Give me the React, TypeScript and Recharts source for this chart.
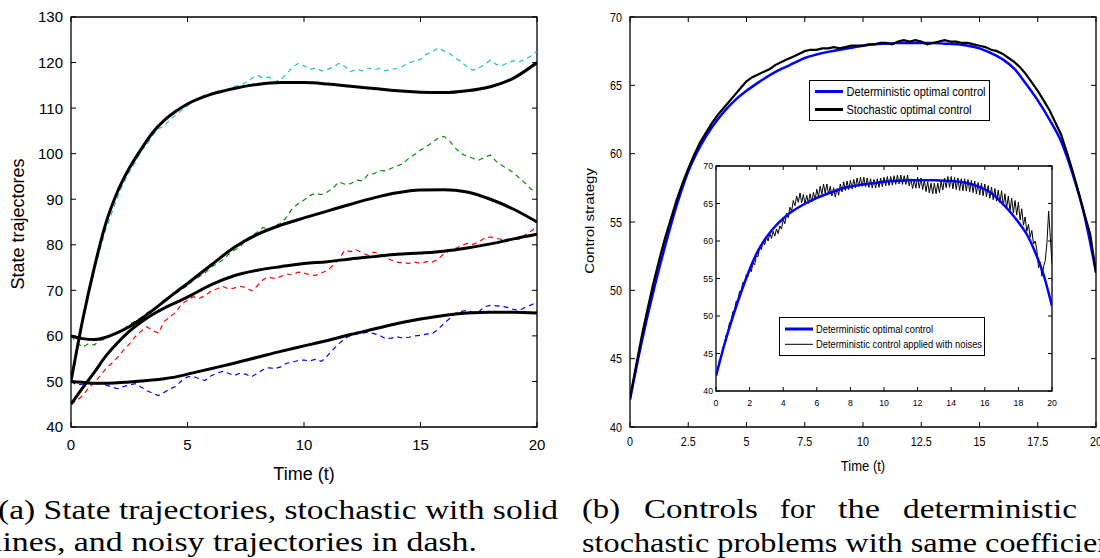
import { LineChart, Line, XAxis, YAxis, ReferenceArea, Legend } from "recharts"

// uniform time grid for the sampled trajectories
const grid = (step: number, end: number) =>
  Array.from({ length: Math.round(end / step) + 1 }, (_, i) => +(i * step).toFixed(2))

// ---------- panel (a): state trajectories ----------
const tSmooth = [0, 0.5, 1, 1.5, 2, 2.5, 3, 3.5, 4, 4.5, 5, 6, 7, 8, 9, 10, 11, 12, 13, 14, 15, 16, 17, 18, 19, 20]
const stochTop = [50, 63.5, 75, 84.8, 91.7, 96.8, 100.9, 104.6, 107.3, 109.3, 110.9, 113, 114.3, 115.2, 115.6, 115.6, 115.3, 114.8, 114.3, 113.8, 113.5, 113.4, 113.8, 114.7, 116.6, 120]
const stochUpper = [60, 59.4, 59.2, 59.7, 60.7, 62, 63.7, 65.6, 67.6, 69.6, 71.5, 75.5, 79.4, 82.3, 84.3, 85.9, 87.4, 88.9, 90.3, 91.4, 92, 92.1, 91.6, 90, 87.8, 85]
const stochLower = [45, 48.6, 52, 55.6, 58.5, 61, 63, 64.7, 66.1, 67.3, 68.5, 71.2, 73.2, 74.4, 75.2, 75.9, 76.3, 76.9, 77.4, 77.9, 78.2, 78.6, 79.3, 80.2, 81.3, 82.3]
const stochBottom = [50, 49.8, 49.6, 49.6, 49.7, 49.9, 50.1, 50.3, 50.6, 51, 51.6, 52.8, 54, 55.3, 56.6, 57.8, 59, 60.3, 61.5, 62.7, 63.7, 64.5, 65, 65.2, 65.2, 65]

const tNoisy = grid(0.25, 20)
const noisyCyan = [
  50, 57, 63, 69, 74.5, 79, 83.5, 87, 90.5, 93.5, 96, 98, 100.5, 102, 104, 105.5,
  106, 107.5, 108.5, 109.5, 110.5, 111.5, 112, 113, 113.2, 113.8, 113.5, 114.2, 114.8, 115, 115.6, 116.5,
  117.2, 116.6, 116.8, 115.8, 116.2, 117.5, 119, 119.8, 119.3, 118.5, 118.8, 118.2, 118.5, 119, 119.8, 119.2,
  118, 118.5, 118.2, 118.8, 118.4, 118.7, 118.2, 118.5, 118.7, 119.2, 120, 120.3, 120.7, 121.8, 122.3, 123.2,
  122.6, 122, 121, 120.2, 119, 118.3, 118.8, 119.6, 120.5, 119.6, 119.3, 120, 120.4, 120.2, 120.7, 121.5, 122.5,
]
const noisyGreen = [
  60, 58.5, 57.5, 58.3, 58, 59, 59.3, 60.2, 60.8, 61.5, 62.5, 63.2, 64, 65, 65.8, 66.6,
  67.8, 68.5, 69.3, 70.3, 71, 72.2, 73, 73.8, 75, 75.8, 76.6, 77.8, 78.8, 79.5, 81, 82,
  82.8, 83.8, 83.2, 84.2, 84.7, 86, 88, 89, 89.8, 90.8, 91.3, 91, 91.6, 92.5, 93.8, 93.3,
  93.4, 94.2, 94, 95.4, 95.6, 96.3, 96.2, 96.8, 97.3, 97.8, 99, 99.8, 100.8, 101.6, 102.4, 103.4,
  103.8, 102.8, 101.2, 100, 99.4, 99, 98.6, 99.2, 99.7, 98.3, 97.4, 96.6, 95.8, 94.6, 93.5, 92.2, 91.5,
]
const noisyRed = [
  45, 45.8, 46.9, 48.5, 49.8, 51.2, 52.8, 54, 55.3, 56.8, 58.2, 59.8, 61, 62, 61.2, 60.6,
  63.2, 64.2, 65.2, 67, 67.8, 68.6, 68.2, 68.8, 69.8, 70.3, 70.9, 70.3, 70.5, 70.9, 70.6, 69.9,
  71, 72.4, 72.9, 72.6, 73, 73.6, 73.4, 74, 73.8, 73.4, 73.3, 73.8, 74.4, 75.5, 76.8, 78.8,
  78.5, 78.9, 78.2, 77.7, 78.4, 78, 77.3, 76.6, 76.2, 76, 75.9, 76.2, 75.9, 76.3, 76.2, 76.8,
  78, 78.7, 79.2, 79.8, 80.3, 80.1, 80.6, 81.5, 81.7, 81.4, 81.2, 81, 81.4, 81.2, 82.2, 83, 83.9,
]
const noisyBlue = [
  50, 49.2, 49.4, 49.6, 49.3, 49.6, 49.2, 48.8, 48.4, 48.9, 49.2, 49.5, 48.8, 48, 47.4, 46.9,
  47.6, 48.4, 48.9, 50.2, 51, 51.1, 50.6, 50.2, 51.2, 51.8, 52.2, 51.8, 51.3, 51.8, 51.6, 51,
  51.8, 52.6, 53, 52.8, 53.2, 54, 54.2, 54.6, 54.7, 54.5, 54.9, 54.4, 55.6, 57, 58.3, 59.4,
  60.1, 60.4, 60.6, 60.8, 60.5, 60.1, 59.4, 59.5, 59.8, 59.5, 59.7, 60, 60.1, 60.4, 60.5, 61.4,
  62.7, 63.8, 64.9, 65.4, 65.6, 65.2, 65.3, 66.4, 66.7, 66.6, 66.5, 66.2, 65.8, 65.6, 66.3, 66.8, 67.4,
]
const stateXTicks = [0, 5, 10, 15, 20]
const stateYTicks = [40, 50, 60, 70, 80, 90, 100, 110, 120, 130]

// ---------- panel (b): controls ----------
const tDet = grid(0.5, 20)
const detControl = [
  42, 46.2, 49.9, 53.2, 56.2, 58.7, 60.5, 61.9, 63.0, 63.9,
  64.6, 65.2, 65.75, 66.2, 66.6, 67, 67.25, 67.45, 67.6, 67.75,
  67.9, 68, 68.05, 68.1, 68.1, 68.1, 68.1, 68.05, 68, 67.9,
  67.7, 67.35, 66.9, 66.2, 65.1, 63.9, 62.5, 60.9, 58.5, 55.5, 51.3,
]
const stochControl = [
  42.1, 44.4, 46.6, 48.6, 50.5, 52.2, 53.8, 55.2, 56.6, 57.8, 58.9, 59.9, 60.8, 61.5, 62.2, 62.8,
  63.3, 63.8, 64.3, 64.8, 65.3, 65.6, 65.8, 66.0, 66.2, 66.5, 66.7, 66.9, 67.1, 67.3, 67.5, 67.6,
  67.6, 67.7, 67.7, 67.8, 67.7, 67.8, 67.9, 67.9, 67.9, 68.0, 68.0, 68.1, 68.1, 68.0, 68.2, 68.3,
  68.2, 68.3, 68.2, 68.0, 68.1, 68.2, 68.3, 68.2, 68.2, 68.1, 68.1, 68.0, 67.9, 67.8, 67.6, 67.5,
  67.3, 67.0, 66.7, 66.3, 65.8, 65.2, 64.6, 63.9, 63.2, 62.3, 61.4, 60.1, 58.7, 57.2, 55.6, 54.1, 51.3,
]
const tInset = grid(0.1, 20)
const noisyControl = [
  42.3, 42.75, 44.1, 44.35, 45.8, 46.05, 47.5, 47.7, 49.1, 49.25,
  50.6, 50.7, 52.0, 52.05, 53.3, 53.3, 54.5, 54.4, 55.5, 55.25,
  56.3, 55.9, 57.1, 56.8, 58.1, 57.9, 59.3, 58.85, 60.0, 59.5,
  60.6, 60.0, 61.0, 60.35, 61.3, 60.65, 61.6, 61.0, 62.0, 61.6,
  62.9, 62.3, 63.7, 63.1, 64.5, 63.95, 65.4, 64.7, 66.0, 65.15,
  66.4, 65.1, 66.2, 64.95, 66.1, 65.0, 66.3, 65.2, 66.5, 65.5,
  66.9, 65.9, 67.3, 66.25, 67.6, 66.4, 67.6, 66.25, 67.3, 66.0,
  67.1, 65.85, 67.0, 66.1, 67.6, 66.55, 67.9, 66.75, 68.0, 66.85,
  68.1, 66.95, 68.2, 67.1, 68.4, 67.25, 68.5, 67.3, 68.5, 67.25,
  68.4, 67.15, 68.3, 67.05, 68.2, 67.05, 68.3, 67.15, 68.4, 67.25,
  68.5, 67.35, 68.6, 67.4, 68.6, 67.45, 68.7, 67.55, 68.8, 67.6,
  68.8, 67.55, 68.7, 67.55, 68.8, 67.35, 68.3, 67.0, 68.1, 67.05,
  68.5, 67.05, 68.4, 66.85, 68.1, 66.6, 67.9, 66.4, 67.7, 66.3,
  67.7, 66.3, 67.7, 66.45, 68.0, 66.8, 68.4, 67.1, 68.6, 67.15,
  68.6, 66.95, 68.5, 66.85, 68.4, 66.75, 68.3, 66.7, 68.3, 66.65,
  68.2, 66.55, 68.1, 66.45, 68.0, 66.3, 67.8, 66.15, 67.7, 66.05,
  67.6, 65.9, 67.4, 65.7, 67.2, 65.5, 67.0, 65.3, 66.8, 65.1,
  66.7, 64.7, 66.3, 64.35, 66.0, 64.05, 65.7, 63.75, 65.4, 63.45,
  65.2, 62.8, 64.3, 62.1, 63.2, 61.3, 62.2, 60.5, 61.4, 59.6,
  60.0, 58.8, 56.4, 57.2, 55.3, 56.6, 57.4, 59.8, 64.0, 60.5,
  57.0,
]
const ctrlXTicks = [0, 2.5, 5, 7.5, 10, 12.5, 15, 17.5, 20]
const ctrlYTicks = [40, 45, 50, 55, 60, 65, 70]
const insetXTicks = [0, 2, 4, 6, 8, 10, 12, 14, 16, 18, 20]

const pts = (t: number[], v: number[]) => t.map((x, i) => ({ t: x, v: v[i] }))

type Frame = { top: number; bottom: number; left: number; right: number }

// MATLAB-style ticks: pointing inward on both sides of the box, label outside
function xTick(f: Frame, len: number, labelY: number, size: number, sx: number) {
  return (p: any) => (
    <g>
      <line x1={p.x} x2={p.x} y1={f.bottom} y2={f.bottom - len} stroke="#000" />
      <line x1={p.x} x2={p.x} y1={f.top} y2={f.top + len} stroke="#000" />
      <text transform={`translate(${p.x},${labelY}) scale(${sx},1)`} textAnchor="middle" fontSize={size} fill="#000">
        {p.payload.value}
      </text>
    </g>
  )
}

function yTick(f: Frame, len: number, labelX: number, size: number, sx: number) {
  return (p: any) => (
    <g>
      <line x1={f.left} x2={f.left + len} y1={p.y} y2={p.y} stroke="#000" />
      <line x1={f.right} x2={f.right - len} y1={p.y} y2={p.y} stroke="#000" />
      <text transform={`translate(${labelX},${p.y + size * 0.36}) scale(${sx},1)`} textAnchor="end" fontSize={size} fill="#000">
        {p.payload.value}
      </text>
    </g>
  )
}

function StateChart() {
  const f = { top: 17, bottom: 427, left: 71, right: 537 }
  const dashed = { strokeWidth: 1.2, strokeDasharray: "5 4", dot: false, activeDot: false, isAnimationActive: false, type: "linear" as const }
  const solid = { stroke: "#000", strokeWidth: 3, dot: false, activeDot: false, isAnimationActive: false, type: "monotone" as const }
  return (
    <LineChart width={560} height={490} margin={{ top: 17, right: 23, bottom: 0, left: 0 }}>
      <XAxis dataKey="t" type="number" domain={[0, 20]} ticks={stateXTicks} interval={0} height={63}
        axisLine={false} tickLine={false} tick={xTick(f, 5, 450, 15, 1)} allowDataOverflow />
      <YAxis type="number" domain={[40, 130]} ticks={stateYTicks} interval={0} width={71}
        axisLine={false} tickLine={false} tick={yTick(f, 5, 63, 15, 1)} allowDataOverflow />
      <ReferenceArea x1={0} x2={20} y1={40} y2={130} fill="none" stroke="#000" strokeWidth={1.3} />
      <Line data={pts(tNoisy, noisyCyan)} dataKey="v" stroke="#1cc3c3" {...dashed} />
      <Line data={pts(tNoisy, noisyGreen)} dataKey="v" stroke="#0b8a0b" {...dashed} />
      <Line data={pts(tNoisy, noisyRed)} dataKey="v" stroke="#ff0000" {...dashed} />
      <Line data={pts(tNoisy, noisyBlue)} dataKey="v" stroke="#0000ff" {...dashed} />
      <Line data={pts(tSmooth, stochTop)} dataKey="v" {...solid} />
      <Line data={pts(tSmooth, stochUpper)} dataKey="v" {...solid} />
      <Line data={pts(tSmooth, stochLower)} dataKey="v" {...solid} />
      <Line data={pts(tSmooth, stochBottom)} dataKey="v" {...solid} />
    </LineChart>
  )
}

function MainLegend() {
  return (
    <svg width={182} height={42} style={{ display: "block" }}>
      <rect x={0.5} y={0.5} width={180} height={40} fill="#fff" stroke="#000" />
      <line x1={6} x2={34} y1={11.5} y2={11.5} stroke="#0000ff" strokeWidth={3} />
      <text x={37.5} y={15.8} fontSize={12} textLength={139} lengthAdjust="spacingAndGlyphs">Deterministic optimal control</text>
      <line x1={6} x2={34} y1={29.5} y2={29.5} stroke="#000" strokeWidth={3} />
      <text x={37.5} y={33.8} fontSize={12} textLength={125} lengthAdjust="spacingAndGlyphs">Stochastic optimal control</text>
    </svg>
  )
}

function ControlChart() {
  const f = { top: 17, bottom: 427, left: 70, right: 536 }
  return (
    <LineChart width={540} height={490} margin={{ top: 17, right: 4, bottom: 0, left: 0 }}>
      <XAxis dataKey="t" type="number" domain={[0, 20]} ticks={ctrlXTicks} interval={0} height={63}
        axisLine={false} tickLine={false} tick={xTick(f, 5, 446, 12.5, 0.86)} allowDataOverflow />
      <YAxis type="number" domain={[40, 70]} ticks={ctrlYTicks} interval={0} width={70}
        axisLine={false} tickLine={false} tick={yTick(f, 5, 62, 12.5, 0.86)} allowDataOverflow />
      <ReferenceArea x1={0} x2={20} y1={40} y2={70} fill="none" stroke="#000" strokeWidth={1.3} />
      <Line data={pts(tDet, detControl)} dataKey="v" stroke="#0000ff" strokeWidth={2.5} type="monotone" dot={false} activeDot={false} isAnimationActive={false} />
      <Line data={pts(tNoisy, stochControl)} dataKey="v" stroke="#000" strokeWidth={2.2} type="linear" dot={false} activeDot={false} isAnimationActive={false} />
      <Legend layout="vertical" align="center" verticalAlign="middle" wrapperStyle={{ left: 249, top: 80, width: 182, height: 42 }} content={() => <MainLegend />} />
    </LineChart>
  )
}

function InsetLegend() {
  return (
    <svg width={207} height={40} style={{ display: "block" }}>
      <rect x={0.5} y={0.5} width={205} height={38} fill="#fff" stroke="#000" />
      <line x1={6} x2={34} y1={12} y2={12} stroke="#0000ff" strokeWidth={3} />
      <text x={37} y={15.8} fontSize={11} textLength={117} lengthAdjust="spacingAndGlyphs">Deterministic optimal control</text>
      <line x1={6} x2={34} y1={27.3} y2={27.3} stroke="#000" strokeWidth={1} />
      <text x={37} y={31.1} fontSize={11} textLength={166} lengthAdjust="spacingAndGlyphs">Deterministic control applied with noises</text>
    </svg>
  )
}

function InsetChart() {
  const f = { top: 11, bottom: 236, left: 36, right: 372 }
  return (
    <LineChart width={380} height={260} margin={{ top: 11, right: 8, bottom: 0, left: 0 }}>
      <XAxis dataKey="t" type="number" domain={[0, 20]} ticks={insetXTicks} interval={0} height={24}
        axisLine={false} tickLine={false} tick={xTick(f, 4, 250.5, 9.5, 0.92)} allowDataOverflow />
      <YAxis type="number" domain={[40, 70]} ticks={ctrlYTicks} interval={0} width={36}
        axisLine={false} tickLine={false} tick={yTick(f, 4, 33, 9.5, 0.92)} allowDataOverflow />
      <ReferenceArea x1={0} x2={20} y1={40} y2={70} fill="#fff" fillOpacity={1} stroke="#000" strokeWidth={1.3} />
      <Line data={pts(tInset, noisyControl)} dataKey="v" stroke="#000" strokeWidth={1} type="linear" dot={false} activeDot={false} isAnimationActive={false} />
      <Line data={pts(tDet, detControl)} dataKey="v" stroke="#0000ff" strokeWidth={2.5} type="monotone" dot={false} activeDot={false} isAnimationActive={false} />
      <Legend layout="vertical" align="center" verticalAlign="middle" wrapperStyle={{ left: 99, top: 162, width: 207, height: 40 }} content={() => <InsetLegend />} />
    </LineChart>
  )
}

export default function App() {
  return (
    <div style={{ position: "fixed", left: 0, top: 0, width: 1100, height: 558, overflow: "hidden", background: "#fff", fontFamily: '"Liberation Sans", Arial, sans-serif' }}>
      <div style={{ position: "absolute", left: 0, top: 0 }}>
        <StateChart />
      </div>
      <div style={{ position: "absolute", left: 560, top: 0 }}>
        <ControlChart />
      </div>
      <div style={{ position: "absolute", left: 680, top: 155 }}>
        <InsetChart />
      </div>
      <svg width={1100} height={558} style={{ position: "absolute", left: 0, top: 0, pointerEvents: "none" }}>
        {/* axis titles */}
        <text transform="translate(24,224) rotate(-90)" textAnchor="middle" fontSize={18}>State trajectores</text>
        <text x={304} y={480} textAnchor="middle" fontSize={18}>Time (t)</text>
        <text transform="translate(594,221) rotate(-90) scale(1,0.86)" textAnchor="middle" fontSize={15}>Control strategy</text>
        <text transform="translate(863,471) scale(0.87,1)" textAnchor="middle" fontSize={15}>Time (t)</text>
        {/* sub-figure captions */}
        <g fontFamily='"Liberation Serif", "DejaVu Serif", serif' fontSize={27} fill="#000">
          <text x={-2} y={519} textLength={560} lengthAdjust="spacingAndGlyphs">(a) State trajectories, stochastic with solid</text>
          <text x={-7} y={551} textLength={484} lengthAdjust="spacingAndGlyphs">lines, and noisy trajectories in dash.</text>
          <text x={582} y={518} textLength={38} lengthAdjust="spacingAndGlyphs">(b)</text>
          <text x={644} y={518} textLength={114} lengthAdjust="spacingAndGlyphs">Controls</text>
          <text x={780} y={518} textLength={35} lengthAdjust="spacingAndGlyphs">for</text>
          <text x={838} y={518} textLength={42} lengthAdjust="spacingAndGlyphs">the</text>
          <text x={903} y={518} textLength={174} lengthAdjust="spacingAndGlyphs">deterministic</text>
          <text x={582} y={552} textLength={553} lengthAdjust="spacingAndGlyphs">stochastic problems with same coefficients</text>
        </g>
      </svg>
    </div>
  )
}
